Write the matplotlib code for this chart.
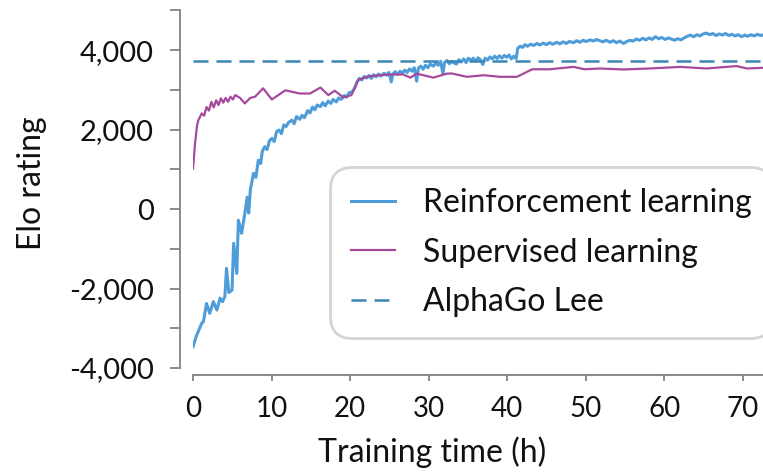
import matplotlib
matplotlib.use('Agg')
import matplotlib.pyplot as plt
from matplotlib.ticker import MultipleLocator, FuncFormatter

rl_hours = [0.0, 0.41, 0.91, 1.11, 1.32, 1.72, 2.13, 2.58, 3.04, 3.44, 3.75, 4.05, 4.26, 4.56, 4.96,
            5.17, 5.57, 5.77, 6.18, 6.59, 6.89, 7.09, 7.29, 7.70, 8.00, 8.31, 8.61, 8.81, 9.12, 9.42,
            9.73, 10.03, 10.33, 10.64, 10.94, 11.25, 11.55, 11.85, 12.16, 12.56, 12.87, 13.17, 13.58,
            13.88, 14.18, 14.59, 14.89, 15.20, 15.50, 15.80, 16.21, 16.51, 16.82, 17.22, 17.53,
            17.83, 18.24, 18.54, 18.84, 19.25, 19.55, 19.86, 20.26, 20.57, 20.87, 21.17, 21.48,
            21.78, 22.09, 22.39, 22.69, 23.00, 23.30, 23.61, 23.91, 24.31, 24.62, 24.92, 25.23,
            25.43, 25.73, 26.04, 26.34, 26.64, 26.95, 27.25, 27.56, 27.86, 28.16, 28.47, 28.67,
            28.97, 29.28, 29.58, 29.89, 30.19, 30.60, 30.90, 31.20, 31.51, 31.81, 32.01, 32.32,
            32.62, 32.93, 33.23, 33.53, 33.84, 34.14, 34.45, 34.75, 35.05, 35.36, 35.66, 35.97,
            36.27, 36.57, 36.88, 37.18, 37.48, 37.79, 38.09, 38.40, 38.70, 39.00, 39.31, 39.61,
            39.92, 40.22, 40.52, 40.83, 41.13, 41.33, 41.64, 41.94, 42.25, 42.55, 42.96, 43.36,
            43.77, 44.17, 44.58, 44.98, 45.39, 45.79, 46.30, 46.70, 47.11, 47.51, 47.92, 48.43,
            48.83, 49.24, 49.64, 50.05, 50.55, 50.96, 51.36, 51.77, 52.17, 52.58, 53.09, 53.49,
            53.90, 54.30, 54.81, 55.21, 55.62, 56.02, 56.43, 56.83, 57.24, 57.65, 58.05, 58.46,
            58.86, 59.27, 59.67, 60.08, 60.48, 60.89, 61.29, 61.70, 62.10, 62.51, 62.91, 63.32,
            63.72, 64.13, 64.53, 64.94, 65.34, 65.75, 66.16, 66.56, 66.97, 67.37, 67.78, 68.18,
            68.59, 68.99, 69.40, 69.80, 70.21, 70.61, 71.02, 71.42, 71.83, 72.23, 72.64, 72.94]
rl_elo = [-3465, -3200, -2960, -2870, -2835, -2375, -2625, -2330, -2540, -2240, -2330, -2205, -1490,
          -2100, -2040, -860, -1620, -280, -610, -110, 300, -100, 480, 900, 800, 1230, 1150, 1450,
          1570, 1500, 1720, 1780, 1700, 1950, 1990, 1900, 2120, 2080, 2180, 2240, 2150, 2330, 2260,
          2360, 2300, 2480, 2420, 2570, 2500, 2620, 2580, 2680, 2600, 2720, 2660, 2760, 2700, 2800,
          2760, 2860, 2820, 2930, 2950, 3050, 3200, 3290, 3250, 3340, 3300, 3360, 3290, 3380, 3330,
          3400, 3350, 3420, 3370, 3440, 3200, 3400, 3460, 3390, 3470, 3420, 3500, 3440, 3530, 3470,
          3560, 3220, 3540, 3600, 3520, 3620, 3560, 3650, 3600, 3680, 3620, 3720, 3400, 3690, 3740,
          3660, 3720, 3680, 3650, 3760, 3700, 3780, 3690, 3800, 3740, 3800, 3720, 3810, 3760, 3640,
          3800, 3750, 3830, 3780, 3850, 3790, 3860, 3800, 3870, 3820, 3880, 3780, 3850, 3790, 4050,
          4100, 4070, 4140, 4100, 4150, 4120, 4170, 4130, 4180, 4140, 4190, 4150, 4200, 4160, 4210,
          4170, 4220, 4190, 4240, 4200, 4250, 4220, 4260, 4230, 4270, 4240, 4210, 4250, 4200, 4240,
          4190, 4230, 4170, 4220, 4250, 4230, 4280, 4250, 4300, 4260, 4310, 4270, 4340, 4290, 4320,
          4270, 4310, 4280, 4250, 4290, 4260, 4310, 4350, 4380, 4340, 4390, 4360, 4410, 4430, 4390,
          4420, 4370, 4410, 4380, 4420, 4370, 4400, 4360, 4390, 4340, 4380, 4350, 4390, 4360, 4400,
          4370, 4390, 4380]

sl_hours = [0, 0.25, 0.51, 0.68, 1.11, 1.42, 1.72, 2.03, 2.33, 2.63, 2.94, 3.24, 3.55, 3.85, 4.15,
            4.46, 4.76, 5.07, 5.37, 5.98, 6.59, 7.29, 7.90, 8.92, 10.03, 11.75, 13.58, 14.89, 16.21,
            17.22, 18.03, 19.15, 20.16, 21.07, 22.49, 25.02, 26.75, 27.66, 28.47, 30.60, 32.32,
            32.93, 34.85, 36.98, 39.11, 41.23, 43.16, 45.39, 48.43, 49.84, 51.77, 54.81, 58.15,
            62.00, 65.34, 69.19, 70.51, 72.94]
sl_elo = [1020, 1650, 2100, 2240, 2410, 2350, 2570, 2480, 2700, 2560, 2740, 2620, 2790, 2680, 2800,
          2700, 2830, 2760, 2870, 2800, 2660, 2800, 2830, 3040, 2760, 2990, 2910, 2910, 3060, 2870,
          2980, 2810, 2870, 3260, 3350, 3390, 3390, 3310, 3410, 3310, 3410, 3415, 3330, 3370, 3330,
          3330, 3520, 3520, 3580, 3520, 3540, 3515, 3540, 3580, 3540, 3600, 3540, 3560]

alphago_lee = 3720

plt.rcParams['font.family'] = ['Lato', 'DejaVu Sans']

fig = plt.figure(figsize=(7.63, 4.72), dpi=100)
ax = fig.add_axes([0.2530, 0.2203, 0.7465, 0.7575])

ax.plot(rl_hours, rl_elo, color='#4E9DD8', lw=2.2, label='Reinforcement learning')
ax.plot(sl_hours, sl_elo, color='#A64A9E', lw=1.6, label='Supervised learning')
ax.axhline(alphago_lee, color='#3A86B4', lw=1.8, dashes=(6, 3.2), label='AlphaGo Lee')

ax.set_xlim(0, 72.5)
ax.set_ylim(-4000, 5000)

for side in ['top', 'right']:
    ax.spines[side].set_visible(False)
ax.spines['left'].set_position(('outward', 9.4))
ax.spines['bottom'].set_position(('outward', 5))
for side in ['left', 'bottom']:
    ax.spines[side].set_color('#8a8a8a')
    ax.spines[side].set_linewidth(1.4)

ax.xaxis.set_major_locator(MultipleLocator(10))
ax.yaxis.set_major_locator(MultipleLocator(2000))
ax.yaxis.set_minor_locator(MultipleLocator(1000))
ax.yaxis.set_major_formatter(FuncFormatter(lambda v, p: '{:,.0f}'.format(v)))
ax.tick_params(axis='y', which='both', length=7, width=1.4, color='#8a8a8a', pad=12,
               labelsize=21, labelcolor='#111111')
ax.tick_params(axis='x', length=4, width=1.4, color='#8a8a8a', pad=11,
               labelsize=20, labelcolor='#111111')

ax.set_xlabel('Training time (h)', fontsize=23, color='#111111')
ax.set_ylabel('Elo rating', fontsize=23, color='#111111')
ax.xaxis.set_label_coords(0.4196, -0.19)
ax.yaxis.set_label_coords(-0.2563, 0.518)

leg = ax.legend(loc='upper left', bbox_to_anchor=(330 / 763, 305 / 472), bbox_transform=fig.transFigure,
                fontsize=23, frameon=True, fancybox=True, framealpha=1, edgecolor='#d4d4d4',
                handlelength=1.4, handletextpad=0.85, labelspacing=0.62, borderpad=0.65,
                borderaxespad=0)
leg.get_frame().set_linewidth(2)
leg.get_frame().set_boxstyle('round', pad=0, rounding_size=0.7)
for t in leg.get_texts():
    t.set_color('#111111')

fig.savefig('out.png', dpi=100)
